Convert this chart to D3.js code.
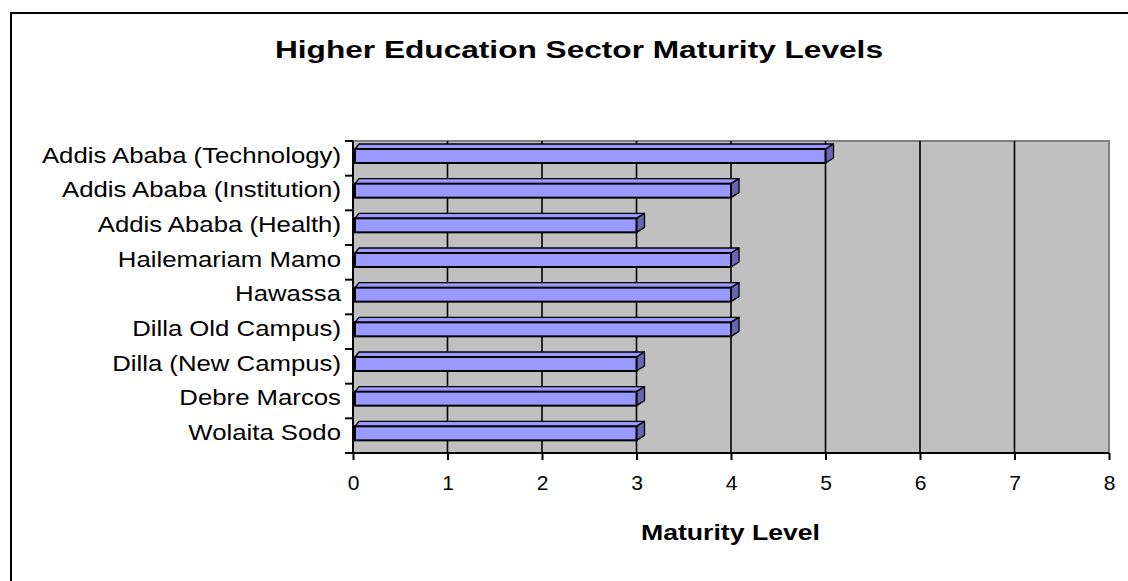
<!DOCTYPE html>
<html>
<head>
<meta charset="utf-8">
<script src="https://cdn.jsdelivr.net/npm/d3@7"></script>
<style>
  body { margin: 0; background: #fff; }
  text { font-family: "Liberation Sans", Arial, sans-serif; fill: #000; }
</style>
</head>
<body>
<div id="chart-area"></div>
<script>
// data
const categories = [
  "Addis Ababa (Technology)",
  "Addis Ababa (Institution)",
  "Addis Ababa (Health)",
  "Hailemariam Mamo",
  "Hawassa",
  "Dilla Old Campus)",
  "Dilla (New Campus)",
  "Debre Marcos",
  "Wolaita Sodo"
];
const maturity = [5, 4, 3, 4, 4, 4, 3, 3, 3];
const xTicks = [0, 1, 2, 3, 4, 5, 6, 7, 8];

const W = 1128, H = 581;
const plot = { left: 353, right: 1109, top: 141, bottom: 453 };

const svg = d3.select("#chart-area")
  .append("svg")
    .attr("width", W)
    .attr("height", H);

// outer chart border
svg.append("rect")
  .attr("x", 11).attr("y", 13)
  .attr("width", 1300).attr("height", 800)
  .attr("fill", "none")
  .attr("stroke", "#000")
  .attr("stroke-width", 2);

let x = d3.scaleLinear()
  .domain([0, 8])
  .range([plot.left, plot.right]);

let y = d3.scaleBand()
  .domain(categories)
  .range([plot.top, plot.bottom]);

// ----------------- Plot area -----------------
svg.append("rect")
  .attr("x", plot.left).attr("y", plot.top)
  .attr("width", plot.right - plot.left)
  .attr("height", plot.bottom - plot.top)
  .attr("fill", "#c0c0c0");

// top + right wall edge
svg.append("path")
  .attr("d", `M${plot.left},${plot.top}H${plot.right}V${plot.bottom}`)
  .attr("fill", "none")
  .attr("stroke", "#808080")
  .attr("stroke-width", 2);

// gridlines
svg.selectAll(".grid")
  .data(xTicks.filter(t => t > 0 && t < 8))
  .enter().append("line")
    .attr("class", "grid")
    .attr("x1", d => x(d)).attr("x2", d => x(d))
    .attr("y1", plot.top).attr("y2", plot.bottom)
    .attr("stroke", "#000")
    .attr("stroke-width", 1.6);

// ----------------- Bars -----------------
const faceTop = 8, faceH = 14, dx = 8, dy = 5;
let bars = svg.selectAll(".bar")
  .data(categories.map((c, i) => ({ name: c, value: maturity[i] })))
  .enter().append("g")
    .attr("class", "bar");

// top face
bars.append("path")
  .attr("d", d => {
    let x0 = x(0) + 2, x1 = x(d.value), yt = y(d.name) + faceTop;
    return `M${x0},${yt}L${x0 + 4},${yt - dy}L${x1 + dx},${yt - dy}L${x1},${yt}Z`;
  })
  .attr("fill", "#9999ff")
  .attr("stroke", "#000")
  .attr("stroke-width", 1.3)
  .attr("stroke-linejoin", "round");

// side face
bars.append("path")
  .attr("d", d => {
    let x1 = x(d.value), yt = y(d.name) + faceTop;
    return `M${x1},${yt}L${x1 + dx},${yt - dy}L${x1 + dx},${yt - dy + faceH}L${x1},${yt + faceH}Z`;
  })
  .attr("fill", "#6666b3")
  .attr("stroke", "#000")
  .attr("stroke-width", 1.3)
  .attr("stroke-linejoin", "round");

// front face
bars.append("rect")
  .attr("x", x(0) + 2)
  .attr("y", d => y(d.name) + faceTop)
  .attr("width", d => x(d.value) - x(0) - 2)
  .attr("height", faceH)
  .attr("fill", "#9999ff")
  .attr("stroke", "#000")
  .attr("stroke-width", 2);

// ----------------- Axes -----------------
// X axis
let xAxis = svg.append("g")
  .attr("transform", `translate(0, ${plot.bottom})`)
  .call(d3.axisBottom(x).tickValues(xTicks).tickSize(7).tickPadding(8).tickFormat(d3.format("d")));
xAxis.attr("font-size", null).attr("font-family", null);
xAxis.select(".domain").attr("stroke", "#000").attr("stroke-width", 2)
  .attr("d", `M${plot.left},0H${plot.right}`);
xAxis.selectAll(".tick line").attr("stroke", "#000").attr("stroke-width", 2);
xAxis.selectAll(".tick text")
  .style("font-size", "21px")
  .attr("y", 37).attr("dy", 0);

// Y axis
svg.append("line")
  .attr("x1", plot.left).attr("x2", plot.left)
  .attr("y1", plot.top).attr("y2", plot.bottom)
  .attr("stroke", "#000").attr("stroke-width", 2);

svg.selectAll(".ytick")
  .data(d3.range(categories.length + 1))
  .enter().append("line")
    .attr("class", "ytick")
    .attr("x1", plot.left - 8).attr("x2", plot.left)
    .attr("y1", i => plot.top + i * y.step())
    .attr("y2", i => plot.top + i * y.step())
    .attr("stroke", "#000").attr("stroke-width", 2);

svg.selectAll(".ylabel")
  .data(categories)
  .enter().append("text")
    .attr("class", "ylabel")
    .attr("x", 341)
    .attr("y", d => y(d) + 21.7)
    .attr("text-anchor", "end")
    .style("font-size", "22px")
    .text(d => d)
    .each(function() {
      let len = this.getComputedTextLength();
      d3.select(this).attr("textLength", len * 1.17).attr("lengthAdjust", "spacingAndGlyphs");
    });

// ----------------- Labels -----------------
svg.append("text")
  .attr("x", 275).attr("y", 58)
  .style("font-size", "23px")
  .attr("font-weight", "bold")
  .attr("textLength", 608)
  .attr("lengthAdjust", "spacingAndGlyphs")
  .text("Higher Education Sector Maturity Levels");

svg.append("text")
  .attr("x", 641).attr("y", 540)
  .style("font-size", "22px")
  .attr("font-weight", "bold")
  .attr("textLength", 179)
  .attr("lengthAdjust", "spacingAndGlyphs")
  .text("Maturity Level");
</script>
</body>
</html>
